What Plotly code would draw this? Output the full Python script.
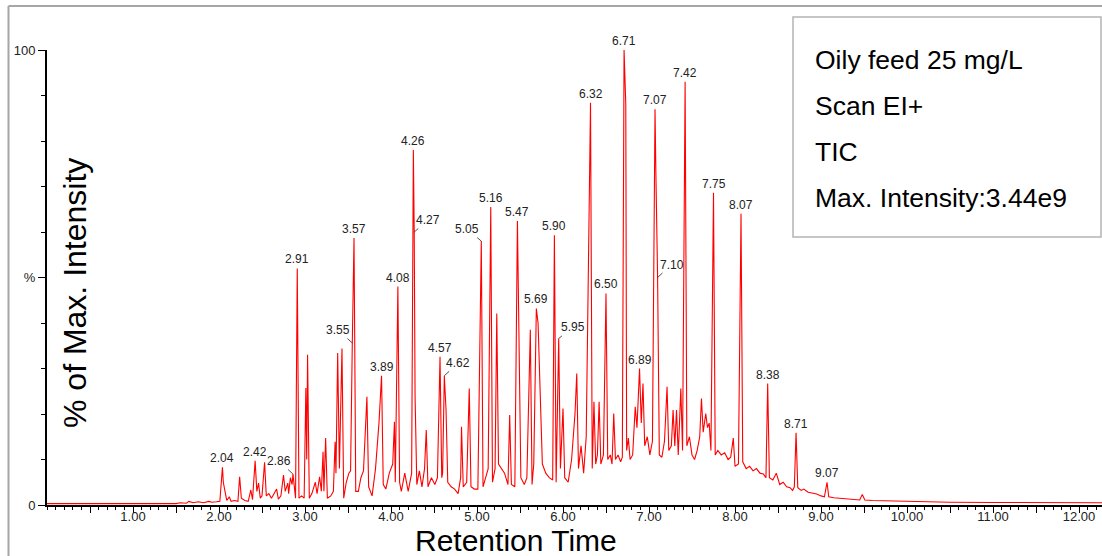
import plotly.graph_objects as go

# ---- data (retention time in min, % of max intensity) ----
rt = [0.00, 1.50, 1.55, 1.62, 1.65, 1.70, 1.76, 1.82, 1.88, 1.92, 1.97, 2.01,
      2.04, 2.05, 2.07, 2.09, 2.12, 2.14, 2.18, 2.22, 2.24, 2.26, 2.30, 2.34,
      2.37, 2.39, 2.42, 2.44, 2.46, 2.48, 2.50, 2.53, 2.55, 2.58, 2.61, 2.64,
      2.67, 2.69, 2.72, 2.75, 2.77, 2.80, 2.81, 2.83, 2.85, 2.86, 2.89, 2.91,
      2.93, 2.96, 2.99, 3.01, 3.02, 3.03, 3.05, 3.08, 3.12, 3.14, 3.17, 3.19,
      3.21, 3.22, 3.24, 3.26, 3.30, 3.33, 3.35, 3.36, 3.38, 3.40, 3.43, 3.45,
      3.48, 3.51, 3.53, 3.55, 3.57, 3.59, 3.62, 3.65, 3.68, 3.72, 3.74, 3.78,
      3.82, 3.86, 3.89, 3.91, 3.94, 3.98, 4.02, 4.04, 4.05, 4.08, 4.10, 4.12,
      4.16, 4.20, 4.24, 4.26, 4.27, 4.28, 4.30, 4.33, 4.36, 4.39, 4.41, 4.43,
      4.47, 4.51, 4.54, 4.57, 4.59, 4.60, 4.62, 4.64, 4.66, 4.70, 4.74, 4.78,
      4.81, 4.82, 4.84, 4.88, 4.91, 4.93, 4.97, 5.01, 5.05, 5.07, 5.10, 5.13,
      5.16, 5.18, 5.21, 5.23, 5.25, 5.28, 5.32, 5.36, 5.38, 5.40, 5.44, 5.47,
      5.49, 5.51, 5.55, 5.58, 5.62, 5.64, 5.66, 5.69, 5.71, 5.73, 5.76, 5.80,
      5.84, 5.88, 5.90, 5.92, 5.95, 5.97, 6.00, 6.02, 6.06, 6.10, 6.14, 6.16,
      6.18, 6.21, 6.24, 6.27, 6.32, 6.34, 6.36, 6.38, 6.40, 6.42, 6.44, 6.47,
      6.50, 6.52, 6.55, 6.57, 6.59, 6.61, 6.64, 6.67, 6.69, 6.71, 6.72, 6.73,
      6.74, 6.76, 6.78, 6.81, 6.84, 6.86, 6.89, 6.91, 6.93, 6.95, 6.98, 7.01,
      7.04, 7.07, 7.08, 7.10, 7.12, 7.15, 7.18, 7.21, 7.23, 7.26, 7.28, 7.30,
      7.32, 7.34, 7.37, 7.39, 7.42, 7.44, 7.47, 7.50, 7.53, 7.56, 7.59, 7.61,
      7.63, 7.66, 7.68, 7.70, 7.72, 7.75, 7.77, 7.80, 7.84, 7.88, 7.92, 7.95,
      7.98, 8.00, 8.04, 8.07, 8.09, 8.13, 8.17, 8.21, 8.25, 8.29, 8.33, 8.36,
      8.38, 8.40, 8.44, 8.48, 8.52, 8.56, 8.60, 8.64, 8.67, 8.69, 8.71, 8.73,
      8.77, 8.80, 8.85, 8.90, 8.95, 9.00, 9.04, 9.07, 9.09, 9.15, 9.25, 9.35,
      9.45, 9.48, 9.51, 9.60, 9.80, 10.00, 10.50, 11.00, 11.25, 11.27, 12.30]

intensity = [0.3, 0.3, 0.5, 0.4, 0.8, 0.5, 0.7, 0.5, 0.8, 0.6, 0.7, 0.8,
             8.3, 5.0, 3.0, 1.0, 1.8, 0.8, 1.0, 0.8, 6.2, 1.5, 1.0, 0.8,
             3.3, 1.2, 9.7, 3.0, 4.8, 1.5, 2.0, 9.4, 2.0, 2.5, 1.5, 2.5,
             3.5, 1.3, 2.0, 6.6, 3.0, 4.8, 2.5, 6.0, 4.5, 6.8, 1.5, 52.0,
             1.5, 2.0, 1.5, 25.7, 10.0, 33.0, 1.5, 2.5, 5.0, 2.5, 6.2, 3.0,
             11.7, 3.0, 14.7, 1.5, 2.0, 3.0, 13.9, 7.0, 33.4, 8.0, 34.4, 1.5,
             5.0, 7.0, 7.5, 35.6, 58.7, 3.0, 3.0, 6.0, 7.5, 23.8, 4.0, 2.0,
             8.0, 18.0, 28.4, 4.5, 3.5, 7.0, 9.0, 18.3, 5.0, 48.0, 5.0, 3.0,
             7.0, 3.0, 7.0, 78.0, 60.0, 23.8, 4.5, 7.5, 4.0, 8.0, 16.5, 4.0,
             6.0, 4.5, 6.0, 32.6, 6.0, 7.0, 28.4, 20.9, 5.0, 4.0, 3.5, 2.5,
             6.0, 17.2, 4.0, 5.0, 25.6, 4.0, 3.5, 3.5, 58.0, 4.0, 6.0, 8.0,
             65.5, 5.0, 8.0, 42.1, 9.0, 8.0, 7.0, 4.5, 19.8, 4.5, 4.0, 62.4,
             30.4, 6.0, 4.5, 6.0, 38.5, 4.5, 9.0, 43.2, 40.0, 25.3, 9.0, 7.0,
             6.0, 5.5, 59.3, 5.0, 36.6, 8.0, 21.2, 6.0, 5.0, 10.0, 20.2, 28.9,
             8.0, 13.0, 7.0, 15.0, 88.4, 8.0, 22.7, 9.0, 11.0, 22.7, 9.0, 11.0,
             46.5, 10.0, 11.0, 9.0, 20.1, 10.0, 11.0, 9.5, 10.5, 100.0, 93.0, 88.0,
             12.0, 14.7, 10.0, 11.0, 21.6, 17.0, 30.0, 18.0, 26.7, 13.0, 15.0, 11.0,
             14.0, 87.0, 73.0, 50.0, 11.0, 10.5, 14.0, 26.0, 12.0, 13.0, 20.9, 13.0,
             20.9, 11.0, 25.6, 12.0, 93.0, 13.0, 15.0, 11.0, 10.0, 12.0, 15.0, 23.4,
             16.0, 20.1, 17.0, 18.0, 12.0, 68.6, 11.0, 12.0, 11.0, 11.5, 10.0, 10.5,
             14.7, 8.5, 9.0, 64.0, 9.5, 8.0, 8.5, 7.5, 8.0, 7.0, 6.8, 6.0,
             26.7, 6.0, 5.5, 7.0, 4.5, 5.0, 4.0, 3.8, 3.2, 4.0, 15.9, 3.8,
             3.2, 3.5, 2.8, 2.6, 2.4, 2.0, 1.8, 5.0, 1.8, 1.6, 1.4, 1.2,
             1.1, 2.3, 1.1, 1.0, 0.9, 0.8, 0.6, 0.55, 0.7, 0.55, 0.5]

# labelled peaks (retention time, apex %)
peak_rt = [2.04, 2.42, 2.91, 3.57, 3.89, 4.08, 4.26, 4.57, 5.16, 5.47, 5.69,
           5.90, 6.32, 6.50, 6.71, 6.89, 7.07, 7.42, 7.75, 8.07, 8.38, 8.71, 9.07]
peak_pct = [8.3, 9.7, 52.0, 58.7, 28.4, 48.0, 78.0, 32.6, 65.5, 62.4, 43.2,
            59.3, 88.4, 46.5, 100.0, 30.0, 87.0, 93.0, 68.6, 64.0, 26.7, 15.9, 5.0]

# labelled shoulders with leader lines: rt, %, text offset dx, dy (px)
lead_rt = [2.86, 3.55, 4.27, 4.62, 5.05, 5.95, 7.10]
lead_pct = [6.8, 35.6, 60.0, 28.4, 58.0, 36.6, 50.0]
lead_dx = [-14, -14, 14, 14, -14, 14, 14]
lead_dy = [-13, -13, -12, -13, -12, -11, -13]

x_tick_vals = [0.5 * i for i in range(1, 25)]
x_tick_text = [f"{v:.2f}" if abs(v - round(v)) < 1e-9 else "" for v in x_tick_vals]

info_lines = ["Oily feed 25 mg/L", "Scan EI+", "TIC", "Max. Intensity:3.44e9"]

# ---- geometry helpers (pixel -> paper) ----
W, H = 1102, 556
ML, MR, MT, MB = 47, 0, 50, 51
PW, PH = W - ML - MR, H - MT - MB


def px(x):
    return (x - ML) / PW


def py(y):
    return (H - MB - y) / PH


FONT = "Liberation Sans, Arial, sans-serif"

fig = go.Figure()
fig.add_trace(go.Scatter(x=rt, y=intensity, mode="lines",
                         line=dict(color="#ff0000", width=1.1),
                         hoverinfo="skip", showlegend=False))

annotations = []
for r, p in zip(peak_rt, peak_pct):
    annotations.append(dict(x=r, y=p, xref="x", yref="y", text=f"{r:.2f}",
                            showarrow=False, xanchor="center", yanchor="bottom",
                            yshift=0, font=dict(family=FONT, size=12, color="#222222")))
for r, p, dx, dy in zip(lead_rt, lead_pct, lead_dx, lead_dy):
    annotations.append(dict(x=r, y=p, xref="x", yref="y", text=f"{r:.2f}",
                            showarrow=True, arrowhead=0, arrowwidth=0.8,
                            arrowcolor="#222222", ax=dx, ay=dy, standoff=0,
                            font=dict(family=FONT, size=12, color="#222222")))

annotations.append(dict(x=px(516), y=py(540), xref="paper", yref="paper",
                        text="Retention Time", showarrow=False,
                        xanchor="center", yanchor="middle",
                        font=dict(family=FONT, size=30, color="black")))
annotations.append(dict(x=px(75), y=py(293), xref="paper", yref="paper",
                        text="% of Max. Intensity", showarrow=False, textangle=-90,
                        xanchor="center", yanchor="middle",
                        font=dict(family=FONT, size=32, color="black")))
for i, t in enumerate(info_lines):
    annotations.append(dict(x=px(813), y=py(60 + 46 * i), xref="paper", yref="paper",
                            text=t, showarrow=False, xanchor="left", yanchor="middle",
                            font=dict(family=FONT, size=26.5, color="black")))

shapes = [
    # outer frame
    dict(type="line", xref="paper", yref="paper", x0=px(8.5), x1=px(8.5),
         y0=py(6), y1=py(600), line=dict(color="#a6a6a6", width=2), layer="above"),
    dict(type="line", xref="paper", yref="paper", x0=px(8.5), x1=px(1110),
         y0=py(6), y1=py(6), line=dict(color="#a6a6a6", width=2), layer="above"),
    # info box
    dict(type="rect", xref="paper", yref="paper", x0=px(793), x1=px(1101),
         y0=py(237), y1=py(17), line=dict(color="#b4b4b4", width=1.5),
         fillcolor="white", layer="above"),
]

fig.update_layout(
    width=W, height=H,
    margin=dict(l=ML, r=MR, t=MT, b=MB, pad=0),
    paper_bgcolor="white", plot_bgcolor="white",
    font=dict(family=FONT, color="#222222"),
    annotations=annotations, shapes=shapes,
    xaxis=dict(range=[0, PW / 86.0], showline=True, linecolor="black", linewidth=2,
               showgrid=False, zeroline=False, ticks="outside", ticklen=6,
               tickwidth=1, tickcolor="black", tickmode="array",
               tickvals=x_tick_vals, ticktext=x_tick_text, ticklabelstandoff=-8,
               tickfont=dict(family=FONT, size=13, color="#222222"),
               minor=dict(ticks="outside", ticklen=3, tickwidth=1, tickcolor="black",
                          tickmode="linear", tick0=0, dtick=0.1, showgrid=False)),
    yaxis=dict(range=[0, 100], showline=True, linecolor="black", linewidth=2,
               showgrid=False, zeroline=False, ticks="outside", ticklen=7,
               tickwidth=1, tickcolor="black", tickmode="array",
               tickvals=[0, 50, 100], ticktext=["0", "%", "100"],
               tickfont=dict(family=FONT, size=13, color="#222222"),
               minor=dict(ticks="outside", ticklen=4, tickwidth=1, tickcolor="black",
                          tickmode="linear", tick0=0, dtick=10, showgrid=False)),
)

fig.write_html("out.html")
